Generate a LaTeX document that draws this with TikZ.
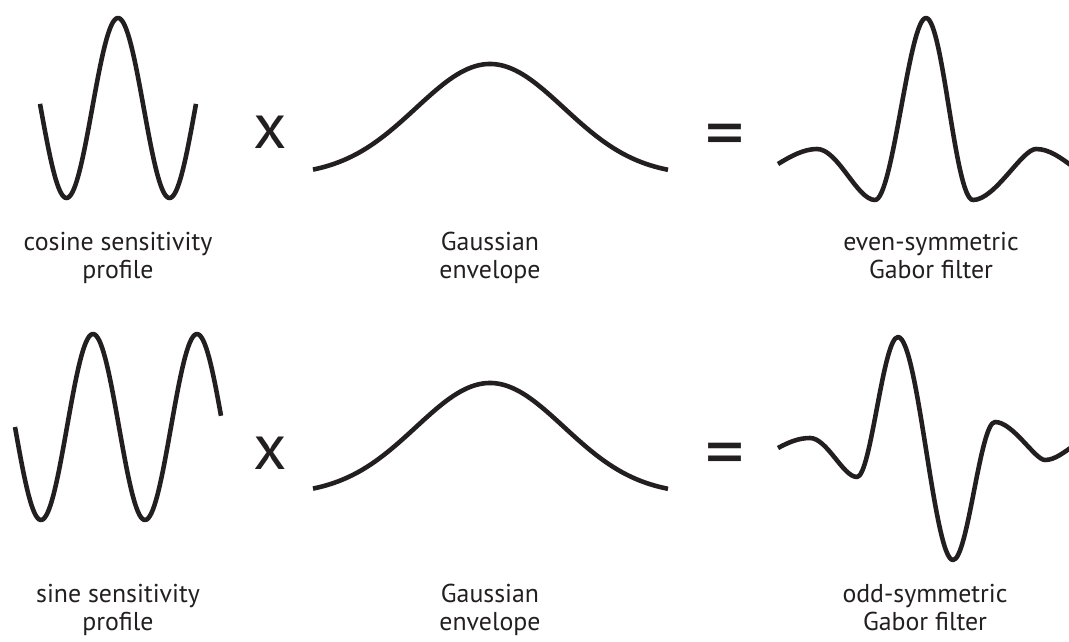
\documentclass[tikz,border=0pt]{standalone}
\usepackage{fontspec}
\setmainfont{PT Sans}
\usetikzlibrary{positioning}
\definecolor{inkc}{RGB}{35,31,32}
\tikzset{
  wave/.style={line width=2.6pt, draw=inkc, line join=round},
  caption/.style={font=\fontsize{14.7}{15.9}\selectfont, align=center, text=inkc, inner sep=0pt, anchor=base},
  opsym/.style={font=\fontsize{37}{37}\selectfont, text=inkc, inner sep=0pt},
  eqsym/.style={font=\fontsize{44}{44}\selectfont, text=inkc, inner sep=0pt},
}
% one Gaussian envelope, baseline #1
\newcommand{\envelope}[1]{%
  \draw[wave] plot[domain=313:668, samples=120] (\x, {#1-112*exp(-((\x-490)/74)^2/2)});}

\begin{document}
\begin{tikzpicture}[x={(0.02cm,0)}, y={(0,-0.02cm)}]
  \useasboundingbox (0,0) rectangle (1069,642);
  % top row: cosine x Gaussian = even Gabor
  \draw[wave] plot[domain=40:196, samples=120] (\x, {108-90*cos((\x-118)/103*360)});
  \node[opsym] (times1) at (270,132) {x};
  \envelope{176}
  \node[eqsym] (equals1) at (725,142) {=};
  \draw[wave] (778,164) .. controls +(13,-8) and +(-13,0) .. (817,149)
    .. controls +(21,0) and +(-18,0) .. (875,200)
    .. controls +(18,0) and +(-17,0) .. (926,18)
    .. controls +(17,0) and +(-18,0) .. (973,200)
    .. controls +(22,0) and +(-14,0) .. (1036,149)
    .. controls +(14,0) and +(-10,-7) .. (1072,166);
  \node[caption] (cosname) at (118,278) {cosine sensitivity\\profile};
  \node[caption] (gaussname1) at (490,278) {Gaussian\\envelope};
  \node[caption] (evenname) at (931,278) {even-symmetric\\Gabor filter};
  % bottom row: sine x Gaussian = odd Gabor
  \draw[wave] plot[domain=15:221, samples=140] (\x, {427-93*cos((\x-93)/104*360)});
  \node[opsym] (times2) at (270,453) {x};
  \envelope{495}
  \node[eqsym] (equals2) at (725,461) {=};
  \draw[wave] (778,448) .. controls +(11,-6) and +(-11,0) .. (810,438)
    .. controls +(17,0) and +(-14,0) .. (857,477)
    .. controls +(14,0) and +(-15,0) .. (898,337)
    .. controls +(20,0) and +(-19,0) .. (953,560)
    .. controls +(15,0) and +(-15,0) .. (995,422)
    .. controls +(18,0) and +(-10,0) .. (1045,460)
    .. controls +(10,0) and +(-8,5) .. (1072,447);
  \node[caption] (sinname) at (118,630) {sine sensitivity\\profile};
  \node[caption] (gaussname2) at (490,630) {Gaussian\\envelope};
  \node[caption] (oddname) at (925,630) {odd-symmetric\\Gabor filter};
\end{tikzpicture}
\end{document}
